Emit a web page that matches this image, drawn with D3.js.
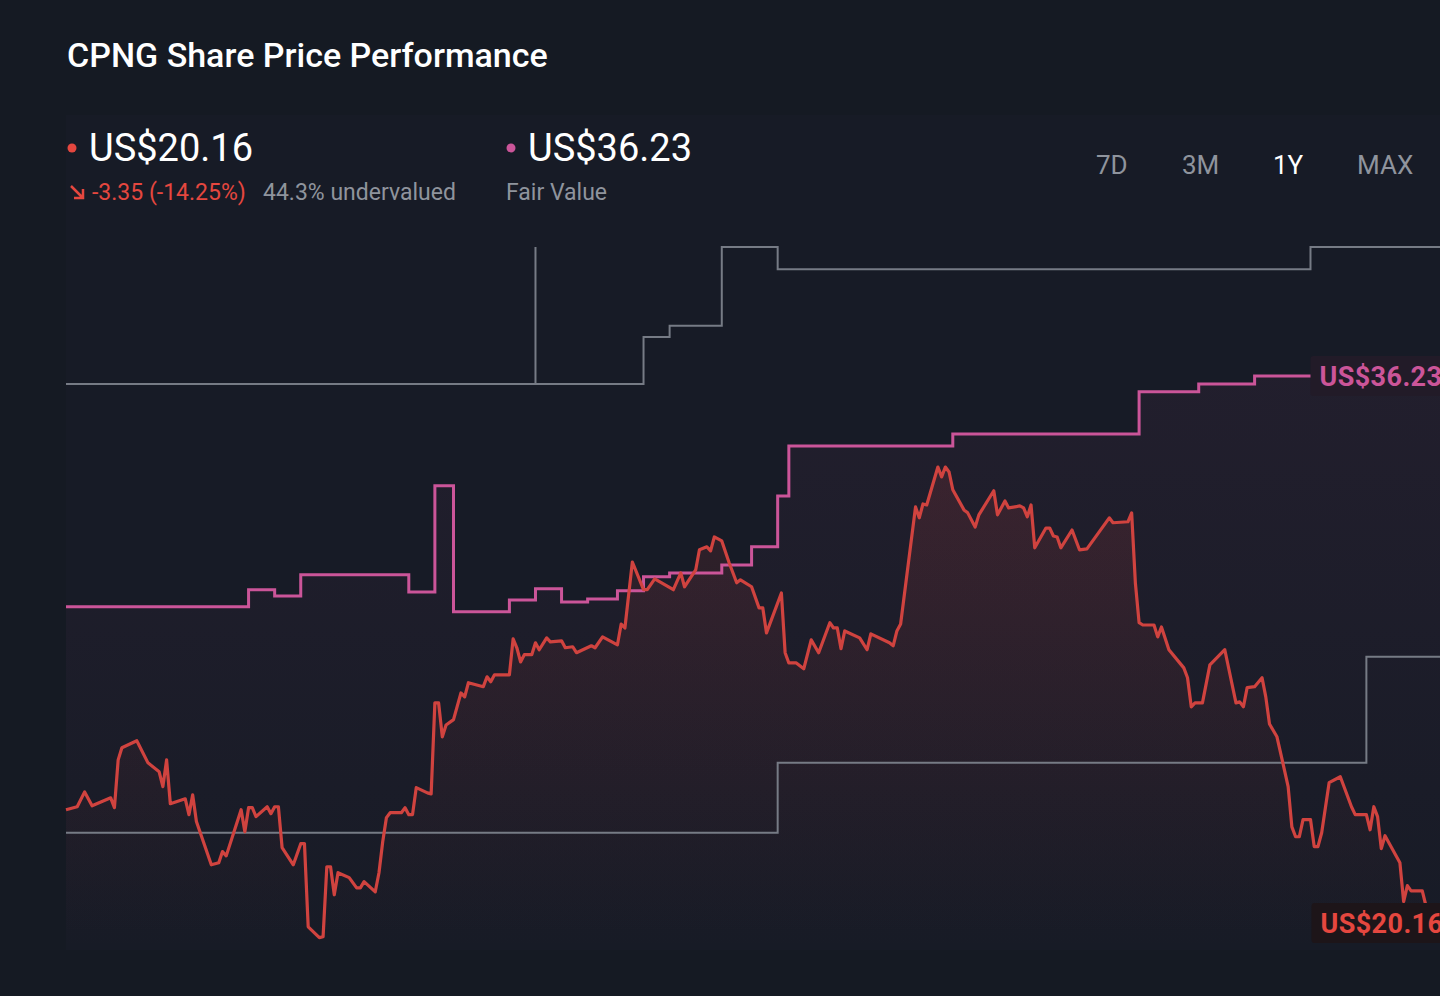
<!DOCTYPE html>
<html>
<head>
<meta charset="utf-8">
<script src="https://cdn.jsdelivr.net/npm/d3@7"></script>
<style>
	html, body { margin: 0; padding: 0; background: #151a23; }
	#chart { width: 1440px; height: 996px; }
	text { font-family: Roboto, "Noto Sans", sans-serif; }
</style>
</head>
<body>
<div id="chart"></div>
<script>

// share price, [day of the 1Y window, US$]
const priceData = [
	[0,23.08],[3,23.17],[5,23.62],[7,23.20],[12,23.44],[13,23.14],[14,24.59],[15,24.96],[19,25.17],
	[22,24.50],[25,24.23],[26,23.78],[27,24.59],[28,23.26],[32,23.41],[33,22.93],[34,23.53],[35,22.72],
	[39,21.41],[41,21.47],[42,21.81],[43,21.68],[47,23.08],[48,22.41],[49,23.14],[50,23.14],[51,22.87],
	[54,23.17],[55,22.96],[56,23.17],[57,23.17],[58,21.93],[61,21.41],[63,22.05],[64,22.05],[65,19.53],
	[68,19.20],[69,19.23],[70,21.35],[71,21.35],[72,20.50],[73,21.17],[76,21.02],[78,20.71],[79,20.71],
	[80,20.90],[83,20.59],[84,21.17],[85,22.11],[86,22.84],[87,22.99],[90,22.99],[91,23.14],[92,22.93],
	[93,22.93],[94,23.75],[97,23.59],[98,23.56],[99,26.32],[100,26.32],[101,25.29],[102,25.65],[104,25.81],
	[106,26.62],[107,26.50],[108,26.93],[112,26.81],[113,27.11],[114,26.96],[115,27.17],[119,27.17],
	[120,28.26],[121,27.99],[122,27.56],[123,27.78],[125,27.78],[126,28.14],[127,27.93],[129,28.29],
	[130,28.17],[133,28.20],[134,27.99],[136,28.02],[137,27.84],[141,28.05],[142,27.99],[144,28.32],
	[148,28.08],[149,28.71],[150,28.59],[152,30.59],[155,29.75],[156,29.75],[158,30.08],[163,29.75],
	[165,30.26],[166,29.84],[169,30.35],[170,30.96],[172,31.05],[173,30.93],[174,31.35],[176,31.23],
	[178,30.56],[180,29.96],[181,30.05],[184,29.84],[186,29.20],[187,29.20],[188,28.44],[192,29.65],
	[193,27.84],[194,27.53],[196,27.53],[198,27.35],[200,28.23],[202,27.84],[205,28.75],[206,28.59],
	[207,28.59],[208,27.96],[209,28.50],[213,28.29],[215,27.93],[216,28.41],[221,28.14],[222,28.05],
	[223,28.50],[224,28.71],[228,32.26],[229,31.93],[230,32.35],[231,32.32],[234,33.47],[235,33.17],
	[236,33.47],[237,33.32],[238,32.78],[241,32.17],[242,32.08],[244,31.65],[245,32.02],[249,32.75],
	[250,32.02],[252,32.44],[253,32.23],[256,32.29],[257,32.23],[258,31.96],[259,32.32],[260,31.02],
	[263,31.62],[264,31.62],[265,31.38],[266,31.35],[267,31.02],[270,31.56],[272,30.96],[274,30.99],
	[280,31.93],[281,31.78],[285,31.81],[286,32.08],[287,29.96],[288,28.75],[289,28.68],[292,28.68],
	[293,28.32],[294,28.62],[296,27.93],[300,27.38],[301,27.08],[302,26.20],[303,26.32],[305,26.32],
	[307,27.47],[311,27.93],[314,26.32],[315,26.35],[316,26.20],[317,26.78],[319,26.81],[321,27.08],
	[322,26.50],[323,25.68],[325,25.29],[327,24.29],[328,23.78],[329,22.56],[330,22.26],[331,22.26],
	[332,22.78],[334,22.78],[335,21.96],[336,21.96],[337,22.38],[339,23.90],[342,24.08],[345,23.17],
	[346,22.93],[349,22.93],[350,22.47],[351,23.17],[352,22.87],[353,21.90],[354,22.29],[358,21.47],
	[359,20.29],[360,20.78],[361,20.62],[364,20.62],[365,20.16]
];

// fair value estimate, step changes [day, US$]
const fairValueData = [
	[0,29.23],[49,29.75],[56,29.56],[63,30.20],[92,29.68],[99,32.90],[104,29.08],[119,29.44],[126,29.78],
	[133,29.38],[140,29.47],[148,29.72],[155,30.14],[162,30.26],[176,30.50],[184,31.05],[191,32.59],
	[194,34.11],[238,34.47],[288,35.75],[304,35.99],[319,36.23],[370,36.23]
];

// grey step lines (upper and lower band)
const upperBandData = [
	[0,35.99],[126,40.14],[126,35.99],[155,37.41],[162,37.75],[176,40.14],[191,39.47],[334,40.14],[370,40.14]
];
const lowerBandData = [
	[0,22.38],[191,24.50],[349,27.72],[370,27.72]
];

const headline = {
	title: "CPNG Share Price Performance",
	price: "US$20.16",
	change: "-3.35 (-14.25%)",
	valuation: "44.3% undervalued",
	fairValue: "US$36.23",
	fairValueLabel: "Fair Value"
};
const periods = ["7D", "3M", "1Y", "MAX"];
const activePeriod = "1Y";
const labelDay = 334;   // where the end labels start

const priceColor = "#d0433f";
const dotRed = "#e5473f";
const fairColor = "#cb5599";
const bandColor = "#767b85";
const mutedText = "#8f949d";


class PriceChart {

	constructor(parentElement) {
		this.parentElement = parentElement;
		this.initVis();
	}

	initVis() {
		let vis = this;

		vis.width = 1440;
		vis.height = 996;
		vis.plotTop = 115;
		vis.plotBottom = 950;

		vis.svg = d3.select("#" + vis.parentElement).append("svg")
			.attr("width", vis.width)
			.attr("height", vis.height);

		vis.svg.append("rect")
			.attr("width", vis.width)
			.attr("height", vis.height)
			.attr("fill", "#151a23");

		// faint plot panel
		vis.svg.append("rect")
			.attr("x", 66)
			.attr("y", vis.plotTop)
			.attr("width", vis.width - 66)
			.attr("height", vis.plotBottom - vis.plotTop)
			.attr("fill", "#171b26");

		// day index -> px, price -> px
		vis.x = d3.scaleLinear().domain([0, 365]).range([66, 1426]);
		vis.y = d3.scaleLinear().domain([20.16, 36.23]).range([906, 376]);

		let defs = vis.svg.append("defs");

		let redGrad = defs.append("linearGradient")
			.attr("id", "priceFill")
			.attr("gradientUnits", "userSpaceOnUse")
			.attr("x1", 0).attr("x2", 0)
			.attr("y1", 460).attr("y2", vis.plotBottom);
		redGrad.append("stop").attr("offset", 0).attr("stop-color", "#d0433f").attr("stop-opacity", 0.15);
		redGrad.append("stop").attr("offset", 1).attr("stop-color", "#d0433f").attr("stop-opacity", 0);

		let pinkGrad = defs.append("linearGradient")
			.attr("id", "fairFill")
			.attr("gradientUnits", "userSpaceOnUse")
			.attr("x1", 0).attr("x2", 0)
			.attr("y1", 376).attr("y2", vis.plotBottom);
		pinkGrad.append("stop").attr("offset", 0).attr("stop-color", fairColor).attr("stop-opacity", 0.06);
		pinkGrad.append("stop").attr("offset", 1).attr("stop-color", fairColor).attr("stop-opacity", 0);

		vis.plotG = vis.svg.append("g");
		vis.headerG = vis.svg.append("g");

		vis.updateVis();
	}

	updateVis() {
		let vis = this;

		let line = d3.line()
			.x(d => vis.x(d[0]))
			.y(d => vis.y(d[1]));

		let stepLine = d3.line()
			.x(d => vis.x(d[0]))
			.y(d => vis.y(d[1]))
			.curve(d3.curveStepAfter);

		let area = d3.area()
			.x(d => vis.x(d[0]))
			.y0(vis.plotBottom)
			.y1(d => vis.y(d[1]));

		let stepArea = d3.area()
			.x(d => vis.x(d[0]))
			.y0(vis.plotBottom)
			.y1(d => vis.y(d[1]))
			.curve(d3.curveStepAfter);

		// fills
		vis.plotG.append("path")
			.datum(fairValueData)
			.attr("d", stepArea)
			.attr("fill", "url(#fairFill)");

		vis.plotG.append("path")
			.datum(priceData)
			.attr("d", area)
			.attr("fill", "url(#priceFill)");

		// grey bands
		[upperBandData, lowerBandData].forEach(band => {
			vis.plotG.append("path")
				.datum(band)
				.attr("d", stepLine)
				.attr("fill", "none")
				.attr("stroke", bandColor)
				.attr("stroke-width", 2);
		});

		// fair value
		vis.plotG.append("path")
			.datum(fairValueData)
			.attr("d", stepLine)
			.attr("fill", "none")
			.attr("stroke", fairColor)
			.attr("stroke-width", 3);

		// price
		vis.plotG.append("path")
			.datum(priceData)
			.attr("d", line)
			.attr("fill", "none")
			.attr("stroke", priceColor)
			.attr("stroke-width", 3.2)
			.attr("stroke-linejoin", "round");

		// end labels
		let lastFair = fairValueData[fairValueData.length - 1];
		let lastPrice = priceData[priceData.length - 1];
		vis.endLabel(vis.x(labelDay), vis.y(lastFair[1]), headline.fairValue, fairColor, "#221b28");
		vis.endLabel(vis.x(labelDay) + 1, vis.y(lastPrice[1]) + 17, headline.price, dotRed, "#1d1519");

		vis.drawHeader();
	}

	endLabel(x, cy, label, color, bg) {
		let vis = this;
		vis.plotG.append("rect")
			.attr("x", x)
			.attr("y", cy - 20)
			.attr("width", vis.width - x + 10)
			.attr("height", 40)
			.attr("rx", 3)
			.attr("fill", bg);
		vis.plotG.append("text")
			.attr("x", x + 9)
			.attr("y", cy + 10)
			.attr("fill", color)
			.style("font-size", "27px")
			.style("font-weight", 700)
			.style("letter-spacing", "0.4px")
			.text(label);
	}

	drawHeader() {
		let vis = this;
		let h = vis.headerG;

		h.append("text")
			.attr("x", 67)
			.attr("y", 67)
			.attr("fill", "#ffffff")
			.style("font-size", "34px")
			.style("font-weight", 500)
			.text(headline.title);

		// current price
		h.append("circle").attr("cx", 72).attr("cy", 148).attr("r", 4.5).attr("fill", dotRed);
		h.append("text")
			.attr("x", 89).attr("y", 161)
			.attr("fill", "#ffffff")
			.style("font-size", "38px")
			.text(headline.price);

		// down arrow
		h.append("path")
			.attr("d", "M71,186 L83,198 M74,198 L83,198 L83,189")
			.attr("fill", "none")
			.attr("stroke", dotRed)
			.attr("stroke-width", 2.5);

		h.append("text")
			.attr("x", 92).attr("y", 200)
			.attr("fill", dotRed)
			.style("font-size", "23px")
			.text(headline.change);

		h.append("text")
			.attr("x", 263).attr("y", 200)
			.attr("fill", mutedText)
			.style("font-size", "23px")
			.text(headline.valuation);

		// fair value
		h.append("circle").attr("cx", 511).attr("cy", 148).attr("r", 4.5).attr("fill", fairColor);
		h.append("text")
			.attr("x", 528).attr("y", 161)
			.attr("fill", "#ffffff")
			.style("font-size", "38px")
			.text(headline.fairValue);
		h.append("text")
			.attr("x", 506).attr("y", 200)
			.attr("fill", mutedText)
			.style("font-size", "23px")
			.text(headline.fairValueLabel);

		// period switch
		let periodX = [1096, 1182, 1273, 1357];
		h.selectAll("text.period")
			.data(periods)
			.enter()
			.append("text")
			.attr("class", "period")
			.attr("x", (d, i) => periodX[i])
			.attr("y", 174)
			.attr("fill", d => d === activePeriod ? "#ffffff" : mutedText)
			.style("font-size", "26px")
			.text(d => d);
	}
}

new PriceChart("chart");
</script>
</body>
</html>
